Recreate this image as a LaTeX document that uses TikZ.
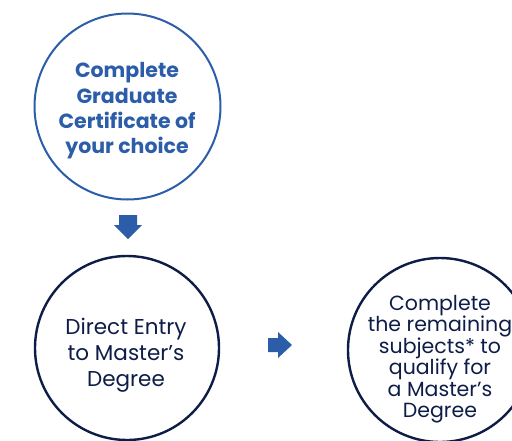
\documentclass[tikz,border=0pt]{standalone}
\usepackage{fontspec}
\setmainfont{Poppins}
\definecolor{cblue}{HTML}{2B5DA8}
\definecolor{cnavy}{HTML}{0E1D47}
\begin{document}
\begin{tikzpicture}[x=1pt,y=-1pt,
  circ/.style={circle,minimum size=#1,inner sep=0pt},
  bluearrow/.style={fill=cblue,draw=none}]
\useasboundingbox (0,0) rectangle (512,440);
\clip (0,0) rectangle (512,440);
\node[circ=186pt,draw=cblue,line width=2pt] (top) at (127.5,106.5) {};
\node[text=cblue,align=center,font=\fontsize{20.5}{25.3}\selectfont\bfseries] (toptext) at (127,111)
  {Complete\\Graduate\\Certificate of\\your choice};
\node[circ=184pt,draw=cnavy,line width=2.4pt] (left) at (127,348) {};
\node[text=cnavy,align=center,font=\fontsize{21.5}{26}\selectfont] (lefttext) at (126,355)
  {Direct Entry\\to Master’s\\Degree};
\node[circ=184pt,draw=cnavy,line width=2.4pt] (right) at (440,350) {};
\node[text=cnavy,align=center,font=\fontsize{20.5}{21.5}\selectfont] (righttext) at (440,359)
  {Complete\\the remaining\\subjects* to\\qualify for\\a Master’s\\Degree};
\fill[bluearrow] (119,215) -- (137,215) -- (137,225) -- (142,225) -- (128,239) -- (114,225) -- (119,225) -- cycle;
\fill[bluearrow] (268,338) -- (278,338) -- (278,332) -- (292,345) -- (278,358) -- (278,352) -- (268,352) -- cycle;
\end{tikzpicture}
\end{document}
